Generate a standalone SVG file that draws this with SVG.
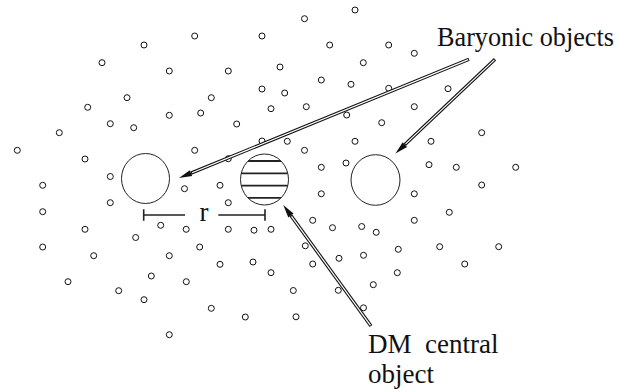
<svg xmlns="http://www.w3.org/2000/svg" width="618" height="392" viewBox="0 0 618 392">
  <style>
    .dot { fill: #fff; stroke: #111; stroke-width: 1; }
    .body { fill: #fff; stroke: #222; stroke-width: 1; }
    .hatch { stroke: #222; stroke-width: 1.8; }
    .outer { fill: none; stroke: #111; stroke-width: 3.4; }
    .inner { fill: none; stroke: #fff; stroke-width: 1.2; }
    .bar { fill: none; stroke: #222; stroke-width: 1.6; }
    .label { font-family: "Liberation Serif", "Times New Roman", serif; font-size: 27px; fill: #111; white-space: pre; }
  </style>
  <defs>
    <marker id="head" markerUnits="userSpaceOnUse" markerWidth="16" markerHeight="10" refX="0" refY="3.2" orient="auto" overflow="visible">
      <path d="M0,0 L13,3.2 L0,6.4 Z" fill="#111"/>
    </marker>
    <clipPath id="dmClip">
      <ellipse cx="264.5" cy="179.5" rx="24" ry="25.5"/>
    </clipPath>
  </defs>

  <!-- scattered background particles -->
  <g id="particles">
    <circle class="dot" cx="304.5" cy="18.7" r="3"/>
    <circle class="dot" cx="355" cy="10" r="3"/>
    <circle class="dot" cx="194.7" cy="36" r="3"/>
    <circle class="dot" cx="262" cy="36" r="3"/>
    <circle class="dot" cx="144" cy="45" r="3"/>
    <circle class="dot" cx="329.7" cy="45" r="3"/>
    <circle class="dot" cx="388.7" cy="45" r="3"/>
    <circle class="dot" cx="414.3" cy="53.3" r="3"/>
    <circle class="dot" cx="102" cy="62.7" r="3"/>
    <circle class="dot" cx="363.3" cy="62.7" r="3"/>
    <circle class="dot" cx="280" cy="67" r="3"/>
    <circle class="dot" cx="169.3" cy="71" r="3"/>
    <circle class="dot" cx="228.3" cy="71" r="3"/>
    <circle class="dot" cx="321.3" cy="80" r="3"/>
    <circle class="dot" cx="351" cy="84.3" r="3"/>
    <circle class="dot" cx="388.7" cy="88.3" r="3"/>
    <circle class="dot" cx="448" cy="88.7" r="3"/>
    <circle class="dot" cx="262" cy="89" r="3"/>
    <circle class="dot" cx="284.7" cy="93" r="3"/>
    <circle class="dot" cx="127" cy="97.7" r="3"/>
    <circle class="dot" cx="211.3" cy="97.7" r="3"/>
    <circle class="dot" cx="87.7" cy="107.3" r="3"/>
    <circle class="dot" cx="271" cy="108.7" r="3"/>
    <circle class="dot" cx="306.3" cy="106.7" r="3"/>
    <circle class="dot" cx="414.3" cy="106.7" r="3"/>
    <circle class="dot" cx="200.7" cy="113" r="3"/>
    <circle class="dot" cx="169.3" cy="115.3" r="3"/>
    <circle class="dot" cx="346.7" cy="115" r="3"/>
    <circle class="dot" cx="110.3" cy="123.7" r="3"/>
    <circle class="dot" cx="236.7" cy="124" r="3"/>
    <circle class="dot" cx="381.7" cy="122.7" r="3"/>
    <circle class="dot" cx="133.7" cy="127.7" r="3"/>
    <circle class="dot" cx="59.3" cy="132.7" r="3"/>
    <circle class="dot" cx="481.7" cy="132.7" r="3"/>
    <circle class="dot" cx="262" cy="141" r="3"/>
    <circle class="dot" cx="287.3" cy="141.3" r="3"/>
    <circle class="dot" cx="355" cy="141.3" r="3"/>
    <circle class="dot" cx="431" cy="141.3" r="3"/>
    <circle class="dot" cx="17.3" cy="150.3" r="3"/>
    <circle class="dot" cx="194.7" cy="150.3" r="3"/>
    <circle class="dot" cx="304.5" cy="150.3" r="3"/>
    <circle class="dot" cx="228.3" cy="158.7" r="3"/>
    <circle class="dot" cx="85" cy="159" r="3"/>
    <circle class="dot" cx="346" cy="163" r="3"/>
    <circle class="dot" cx="321.3" cy="167.3" r="3"/>
    <circle class="dot" cx="429" cy="164.7" r="3"/>
    <circle class="dot" cx="456.3" cy="167.3" r="3"/>
    <circle class="dot" cx="515.7" cy="167.3" r="3"/>
    <circle class="dot" cx="110.3" cy="176.5" r="3"/>
    <circle class="dot" cx="42.7" cy="185.3" r="3"/>
    <circle class="dot" cx="184.5" cy="188.7" r="3"/>
    <circle class="dot" cx="220" cy="185.3" r="3"/>
    <circle class="dot" cx="481.7" cy="185" r="3"/>
    <circle class="dot" cx="110.3" cy="202.7" r="3"/>
    <circle class="dot" cx="228.3" cy="202.7" r="3"/>
    <circle class="dot" cx="321.3" cy="193.8" r="3"/>
    <circle class="dot" cx="414.3" cy="193.8" r="3"/>
    <circle class="dot" cx="42.7" cy="211.7" r="3"/>
    <circle class="dot" cx="449.3" cy="212.3" r="3"/>
    <circle class="dot" cx="312.7" cy="220.3" r="3"/>
    <circle class="dot" cx="414.3" cy="220.3" r="3"/>
    <circle class="dot" cx="160.7" cy="225.3" r="3"/>
    <circle class="dot" cx="332.5" cy="227.7" r="3"/>
    <circle class="dot" cx="361.7" cy="226.5" r="3"/>
    <circle class="dot" cx="85" cy="229.3" r="3"/>
    <circle class="dot" cx="186.2" cy="229.3" r="3"/>
    <circle class="dot" cx="228.3" cy="229.3" r="3"/>
    <circle class="dot" cx="254" cy="230.2" r="3"/>
    <circle class="dot" cx="271" cy="229.3" r="3"/>
    <circle class="dot" cx="376.2" cy="232.3" r="3"/>
    <circle class="dot" cx="135.7" cy="237.5" r="3"/>
    <circle class="dot" cx="305.3" cy="245.8" r="3"/>
    <circle class="dot" cx="42.7" cy="247" r="3"/>
    <circle class="dot" cx="199.7" cy="247" r="3"/>
    <circle class="dot" cx="439.7" cy="246.7" r="3"/>
    <circle class="dot" cx="498.7" cy="246.7" r="3"/>
    <circle class="dot" cx="398.3" cy="249.3" r="3"/>
    <circle class="dot" cx="93.7" cy="255.7" r="3"/>
    <circle class="dot" cx="169.3" cy="255.7" r="3"/>
    <circle class="dot" cx="363.5" cy="255.3" r="3"/>
    <circle class="dot" cx="339" cy="258.3" r="3"/>
    <circle class="dot" cx="253" cy="262" r="3"/>
    <circle class="dot" cx="220" cy="264.3" r="3"/>
    <circle class="dot" cx="312.7" cy="264" r="3"/>
    <circle class="dot" cx="464.7" cy="264" r="3"/>
    <circle class="dot" cx="271" cy="272.7" r="3"/>
    <circle class="dot" cx="397.3" cy="272.7" r="3"/>
    <circle class="dot" cx="151.3" cy="276" r="3"/>
    <circle class="dot" cx="68" cy="281.7" r="3"/>
    <circle class="dot" cx="186.3" cy="281.7" r="3"/>
    <circle class="dot" cx="373.3" cy="284.7" r="3"/>
    <circle class="dot" cx="118.7" cy="290.7" r="3"/>
    <circle class="dot" cx="293.3" cy="290.5" r="3"/>
    <circle class="dot" cx="338.3" cy="290.3" r="3"/>
    <circle class="dot" cx="144" cy="299.7" r="3"/>
    <circle class="dot" cx="363.5" cy="307.8" r="3"/>
    <circle class="dot" cx="211.3" cy="308.3" r="3"/>
    <circle class="dot" cx="245.3" cy="317" r="3"/>
    <circle class="dot" cx="296" cy="316.8" r="3"/>
    <circle class="dot" cx="169.3" cy="334.7" r="3"/>
  </g>

  <!-- baryonic object, left -->
  <g id="baryon-left">
    <ellipse class="body" cx="145.5" cy="178.5" rx="24" ry="25"/>
  </g>

  <!-- striped dark-matter central object -->
  <g id="dm-central">
    <ellipse class="body" cx="264.5" cy="179.5" rx="24" ry="25.5"/>
    <g clip-path="url(#dmClip)">
      <line class="hatch" x1="238" y1="161" x2="291" y2="161"/>
      <line class="hatch" x1="238" y1="173.3" x2="291" y2="173.3"/>
      <line class="hatch" x1="238" y1="185.7" x2="291" y2="185.7"/>
      <line class="hatch" x1="238" y1="197.8" x2="291" y2="197.8"/>
    </g>
  </g>

  <!-- baryonic object, right -->
  <g id="baryon-right">
    <ellipse class="body" cx="375.5" cy="180" rx="24.5" ry="25.3"/>
  </g>

  <!-- separation scale bar -->
  <g id="separation">
    <path class="bar" d="M143.7,209.3 V220.7 M143.7,215 H185 M218.3,215 H265 M265,209.3 V220.7"/>
    <text class="label" x="199.5" y="220.7">r</text>
  </g>

  <!-- labels -->
  <g id="label-baryonic">
    <text class="label" x="437" y="46" textLength="177" lengthAdjust="spacingAndGlyphs">Baryonic objects</text>
  </g>
  <g id="label-dm">
    <text class="label" x="368" y="353">DM  central</text>
    <text class="label" x="368" y="383">object</text>
  </g>

  <!-- double-line pointer arrows -->
  <g id="connectors">
    <path class="outer" d="M469,59.3 L191,173.1" marker-end="url(#head)"/>
    <path class="inner" d="M468.2,59.6 L192,172.7"/>
    <path class="outer" d="M495,59.3 L404.9,144.6" marker-end="url(#head)"/>
    <path class="inner" d="M494.4,59.9 L405.6,143.9"/>
    <path class="outer" d="M371,326 L290.9,215.5" marker-end="url(#head)"/>
    <path class="inner" d="M370.5,325.3 L291.5,216.3"/>
  </g>
</svg>
